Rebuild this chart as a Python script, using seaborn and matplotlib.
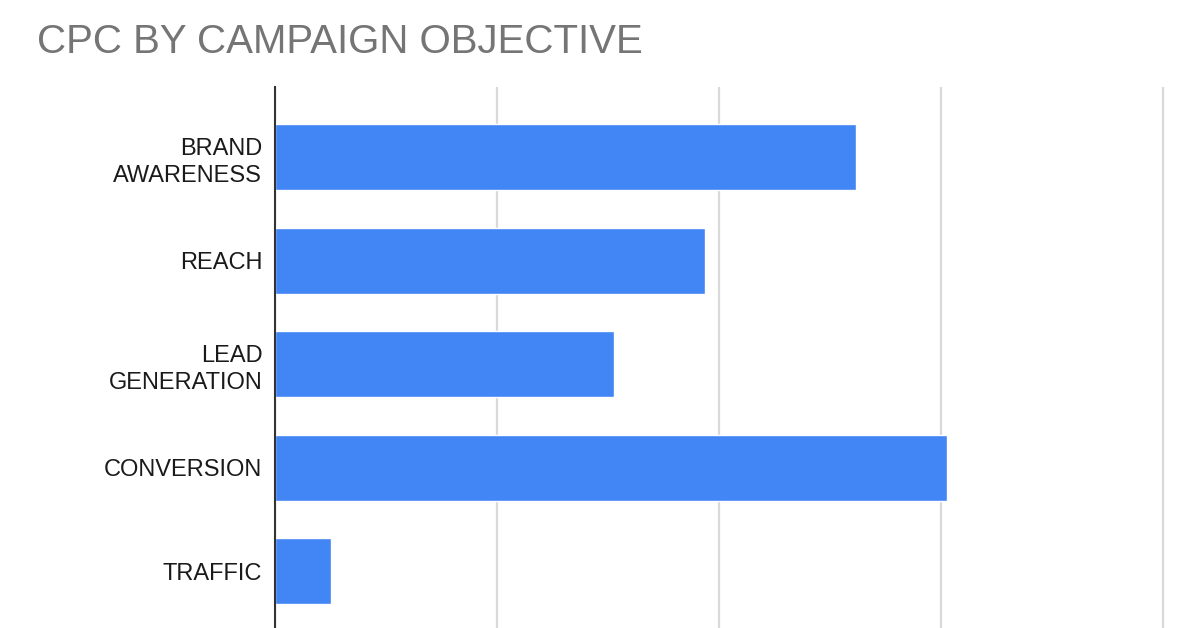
import pandas as pd
import matplotlib.pyplot as plt
import seaborn as sns

objectives = ['BRAND\nAWARENESS', 'REACH', 'LEAD\nGENERATION', 'CONVERSION', 'TRAFFIC']
cpc = [2.62, 1.94, 1.53, 3.03, 0.255]
grid_ticks = [0, 1, 2, 3, 4]

df = pd.DataFrame({'Objective': objectives, 'CPC': cpc})

sns.set_theme(style='white')
plt.rcParams['font.family'] = ['Liberation Sans', 'DejaVu Sans']

fig = plt.figure(figsize=(12, 6.28), dpi=100)
ax = fig.add_axes([0.229, 0.0, 0.749, 0.861])

sns.barplot(data=df, x='CPC', y='Objective', color='#4285F4', width=0.64,
            saturation=1, ax=ax, zorder=3)

ax.set_xlim(0, 4.05)
ax.set_ylim(4.55, -0.676)
ax.set_xticks(grid_ticks)
ax.set_xticklabels([])
ax.tick_params(axis='x', length=0)
ax.tick_params(axis='y', length=0, pad=9, labelsize=17, labelcolor='#1a1a1a')
for lab in ax.get_yticklabels():
    lab.set_linespacing(1.33)
ax.grid(axis='x', color='#d9d9d9', linewidth=1.6, zorder=0)
ax.set_xlabel('')
ax.set_ylabel('')

for side in ['top', 'right', 'bottom']:
    ax.spines[side].set_visible(False)
ax.spines['left'].set_color('#333333')
ax.spines['left'].set_linewidth(1.5)
ax.spines['left'].set_zorder(4)

fig.text(0.031, 0.915, 'CPC BY CAMPAIGN OBJECTIVE', fontsize=29, color='#757575',
         ha='left', va='baseline')

fig.savefig('out.png', dpi=100)
